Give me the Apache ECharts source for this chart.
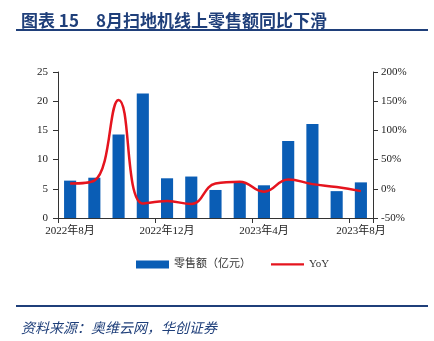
<!DOCTYPE html>
<html>
<head>
<meta charset="utf-8">
<script src="https://cdn.jsdelivr.net/npm/echarts@6/dist/echarts.min.js"></script>
<style>
  html, body { margin: 0; padding: 0; background: #fff; }
  #chart { width: 434px; height: 341px; }
</style>
</head>
<body>
<div id="chart"></div>
<script>
// Monthly online retail sales of robot vacuums and year-on-year growth
const months = ['2022年8月', '2022年9月', '2022年10月', '2022年11月', '2022年12月',
  '2023年1月', '2023年2月', '2023年3月', '2023年4月', '2023年5月',
  '2023年6月', '2023年7月', '2023年8月'];
const sales = [6.4, 6.9, 14.3, 21.3, 6.8, 7.1, 4.8, 6.1, 5.6, 13.2, 16.1, 4.6, 6.1];
const yoy = [9, 14, 152, -25, -21, -26, 9, 12, -5, 16, 8, 3, -4];
const leftTicks = [0, 5, 10, 15, 20, 25];
const rightTicks = [-50, 0, 50, 100, 150, 200];

const navy = '#1F3F7A';
const serif = '"Liberation Serif", "Times New Roman", "Noto Sans CJK SC", serif';
const axisColor = '#333';
const barColor = '#0A5DB5';
const lineColor = '#E5141E';

const chart = echarts.init(document.getElementById('chart'), null, { renderer: 'canvas' });
chart.setOption({
  animation: false,
  backgroundColor: '#fff',
  title: [
    {
      text: '图表 15\u30008月扫地机线上零售额同比下滑',
      left: 16, top: 7,
      textStyle: { color: navy, fontSize: 17, fontWeight: 'bold',
        fontFamily: '"Noto Sans CJK SC", sans-serif' }
    },
    {
      text: '资料来源：奥维云网，华创证券',
      left: 16, top: 316,
      textStyle: { color: navy, fontSize: 14, fontWeight: 'normal', fontStyle: 'italic',
        fontFamily: '"Noto Sans CJK SC", sans-serif' }
    }
  ],
  graphic: [
    { type: 'line', shape: { x1: 16, y1: 30, x2: 428, y2: 30 },
      style: { stroke: navy, lineWidth: 2 } },
    { type: 'line', shape: { x1: 16, y1: 306, x2: 428, y2: 306 },
      style: { stroke: navy, lineWidth: 2 } }
  ],
  grid: { left: 58, right: 61, top: 72, bottom: 123 },
  legend: {
    left: 131, top: 254,
    itemGap: 20,
    itemWidth: 33, itemHeight: 8,
    textStyle: { fontSize: 11, color: '#333', fontFamily: serif },
    data: [
      { name: '零售额（亿元）', icon: 'rect' },
      { name: 'YoY', icon: 'path://M0,0H44V3H0Z' }
    ]
  },
  xAxis: {
    type: 'category',
    data: months,
    axisLine: { lineStyle: { color: axisColor, width: 1 } },
    axisTick: { show: true, interval: 3, length: 5, lineStyle: { color: axisColor } },
    axisLabel: { interval: 3, color: '#222', fontSize: 11, fontFamily: serif, margin: 8 }
  },
  yAxis: [
    {
      type: 'value', min: leftTicks[0], max: leftTicks[leftTicks.length - 1], interval: 5,
      axisLine: { show: true, lineStyle: { color: axisColor } },
      axisTick: { show: true, length: 5, lineStyle: { color: axisColor } },
      splitLine: { show: false },
      axisLabel: { color: '#222', fontSize: 11, fontFamily: serif, margin: 10 }
    },
    {
      type: 'value', min: rightTicks[0], max: rightTicks[rightTicks.length - 1], interval: 50,
      position: 'right',
      axisLine: { show: true, lineStyle: { color: axisColor } },
      axisTick: { show: true, length: 5, lineStyle: { color: axisColor } },
      splitLine: { show: false },
      axisLabel: { color: '#222', fontSize: 11, fontFamily: serif, margin: 8,
        formatter: v => v + '%' }
    }
  ],
  series: [
    {
      name: '零售额（亿元）',
      type: 'bar',
      data: sales,
      barWidth: '50%',
      itemStyle: { color: barColor }
    },
    {
      name: 'YoY',
      type: 'line',
      yAxisIndex: 1,
      data: yoy,
      smooth: 0.45,
      symbol: 'none',
      lineStyle: { color: lineColor, width: 2.5 },
      itemStyle: { color: lineColor }
    }
  ]
});
</script>
</body>
</html>
